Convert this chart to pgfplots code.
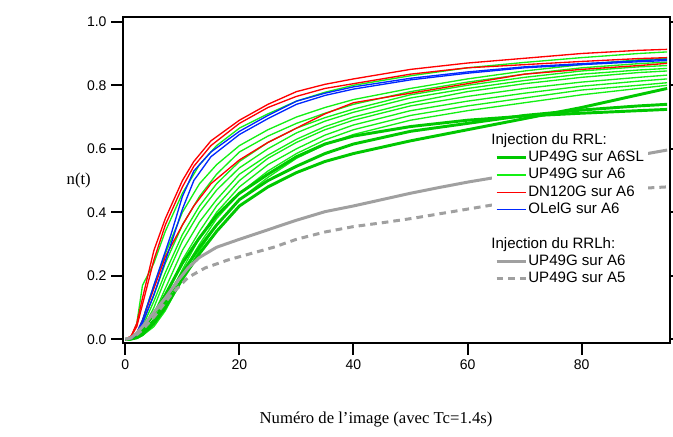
\documentclass[border=0pt]{standalone}
\usepackage{pgfplots}
\pgfplotsset{compat=1.18}
\usepackage{fontspec}
\setmainfont{Liberation Serif}
\newfontfamily\arial{Liberation Sans}
\definecolor{thickgreen}{RGB}{0,200,0}
\definecolor{thingreen}{RGB}{20,240,20}
\definecolor{myred}{RGB}{255,0,0}
\definecolor{myblue}{RGB}{0,40,255}
\definecolor{mygray}{RGB}{160,160,160}
\begin{document}
\begin{tikzpicture}
\begin{axis}[
  scale only axis, width=410.6pt, height=245pt,
  xmin=-0.5, xmax=95.5, ymin=-0.0126, ymax=1.016,
  xtick={0,20,40,60,80}, ytick={0,0.2,0.4,0.6,0.8,1.0},
  xtick pos=lower, ytick pos=both,
  tick align=outside,
  major tick length=8.5pt,
  axis line style={line width=1.5pt},
  tick style={black, line width=1.5pt},
  /pgf/number format/assume math mode=true,
  ticklabel style={font=\arial\fontsize{10.5}{12}\selectfont},
  yticklabel style={/pgf/number format/fixed, /pgf/number format/fixed zerofill, /pgf/number format/precision=1},
  xticklabel style={/pgf/number format/fixed},
  xlabel={Numéro de l'image (avec Tc=1.4s)},
  xlabel style={at={(axis description cs:0.463,-0.232)}, anchor=center, font=\fontsize{12.5}{14}\selectfont},
  ylabel={n(t)},
  ylabel style={at={(axis description cs:-0.08,0.497)}, rotate=-90, anchor=center, font=\fontsize{12.5}{14}\selectfont},
  legend style={at={(rel axis cs:0.675,0.657)}, anchor=north west, draw=none, fill=white,
    font=\arial\fontsize{11.3}{13}\selectfont, inner sep=2pt, row sep=0pt,
    nodes={inner sep=1pt, text height=8.5pt, text depth=2.5pt}},
  legend cell align=left,
  legend image code/.code={\draw[#1] (0pt,0pt) -- (21.75pt,0pt);},
]
% thin green (UP49G sur A6)
\addplot[thingreen, line width=1pt, forget plot] coordinates {(0,0)(1,0.005)(2,0.05)(3,0.17)(5,0.24)(7,0.34)(10,0.46)(13,0.55)(16,0.61)(20,0.665)(25,0.71)(30,0.75)(35,0.778)(40,0.80)(50,0.83)(60,0.855)(70,0.872)(80,0.887)(90,0.90)(95,0.905)};
\addplot[thingreen, line width=1pt, forget plot] coordinates {(0,0)(1,0.003)(2,0.02)(3,0.06)(5,0.17)(7,0.27)(10,0.40)(13,0.49)(16,0.55)(20,0.61)(25,0.66)(30,0.70)(35,0.73)(40,0.755)(50,0.79)(60,0.82)(70,0.845)(80,0.865)(90,0.88)(95,0.885)};
\addplot[thingreen, line width=1pt, forget plot] coordinates {(0,0)(1,0.003)(2,0.015)(3,0.05)(5,0.14)(7,0.24)(10,0.36)(13,0.45)(16,0.52)(20,0.59)(25,0.64)(30,0.68)(35,0.712)(40,0.74)(50,0.78)(60,0.81)(70,0.835)(80,0.855)(90,0.868)(95,0.873)};
\addplot[thingreen, line width=1pt, forget plot] coordinates {(0,0)(1,0.002)(2,0.01)(3,0.04)(5,0.12)(7,0.21)(10,0.33)(13,0.42)(16,0.49)(20,0.56)(25,0.62)(30,0.665)(35,0.698)(40,0.725)(50,0.77)(60,0.80)(70,0.825)(80,0.845)(90,0.858)(95,0.862)};
\addplot[thingreen, line width=1pt, forget plot] coordinates {(0,0)(1,0.002)(2,0.01)(3,0.03)(5,0.10)(7,0.19)(10,0.31)(13,0.40)(16,0.47)(20,0.54)(25,0.60)(30,0.65)(35,0.687)(40,0.715)(50,0.76)(60,0.79)(70,0.815)(80,0.835)(90,0.848)(95,0.853)};
\addplot[thingreen, line width=1pt, forget plot] coordinates {(0,0)(1,0.001)(2,0.008)(3,0.025)(5,0.08)(7,0.16)(10,0.28)(13,0.37)(16,0.44)(20,0.52)(25,0.58)(30,0.63)(35,0.67)(40,0.70)(50,0.745)(60,0.78)(70,0.805)(80,0.825)(90,0.84)(95,0.845)};
\addplot[thingreen, line width=1pt, forget plot] coordinates {(0,0)(1,0.001)(2,0.005)(3,0.02)(5,0.06)(7,0.13)(10,0.25)(13,0.34)(16,0.42)(20,0.50)(25,0.57)(30,0.62)(35,0.66)(40,0.69)(50,0.735)(60,0.765)(70,0.79)(80,0.81)(90,0.825)(95,0.832)};
\addplot[thingreen, line width=1pt, forget plot] coordinates {(0,0)(1,0.001)(2,0.005)(3,0.015)(5,0.05)(7,0.11)(10,0.22)(13,0.32)(16,0.40)(20,0.48)(25,0.55)(30,0.60)(35,0.643)(40,0.675)(50,0.72)(60,0.75)(70,0.775)(80,0.797)(90,0.813)(95,0.82)};
\addplot[thingreen, line width=1pt, forget plot] coordinates {(0,0)(1,0.001)(2,0.004)(3,0.015)(5,0.05)(7,0.11)(10,0.21)(13,0.30)(16,0.38)(20,0.46)(25,0.53)(30,0.585)(35,0.628)(40,0.66)(50,0.705)(60,0.735)(70,0.76)(80,0.785)(90,0.80)(95,0.808)};
\addplot[thingreen, line width=1pt, forget plot] coordinates {(0,0)(1,0.001)(2,0.003)(3,0.012)(5,0.04)(7,0.09)(10,0.19)(13,0.28)(16,0.36)(20,0.44)(25,0.51)(30,0.57)(35,0.613)(40,0.645)(50,0.69)(60,0.72)(70,0.745)(80,0.77)(90,0.79)(95,0.80)};
% thick green (UP49G sur A6SL)
\addplot[thickgreen, line width=2.2pt, forget plot] coordinates {(0,0)(1,0.002)(2,0.01)(3,0.03)(5,0.08)(7,0.14)(10,0.24)(13,0.32)(16,0.39)(20,0.46)(25,0.52)(30,0.575)(35,0.615)(40,0.64)(50,0.67)(60,0.69)(70,0.703)(80,0.712)(90,0.72)(95,0.724)};
\addplot[thickgreen, line width=2.2pt, forget plot] coordinates {(0,0)(1,0.001)(2,0.008)(3,0.02)(5,0.06)(7,0.12)(10,0.21)(13,0.29)(16,0.36)(20,0.44)(25,0.50)(30,0.545)(35,0.585)(40,0.615)(50,0.655)(60,0.68)(70,0.705)(80,0.722)(90,0.735)(95,0.74)};
\addplot[thickgreen, line width=2.2pt, forget plot] coordinates {(0,0)(1,0.001)(2,0.005)(3,0.015)(5,0.05)(7,0.10)(10,0.19)(13,0.27)(16,0.34)(20,0.42)(25,0.48)(30,0.525)(35,0.56)(40,0.585)(50,0.625)(60,0.66)(70,0.695)(80,0.73)(90,0.77)(95,0.79)};
% red (DN120G sur A6)
\addplot[myred, line width=1pt, forget plot] coordinates {(0,0)(1,0.01)(2,0.05)(3,0.13)(5,0.28)(7,0.38)(10,0.50)(12,0.56)(15,0.625)(20,0.69)(25,0.74)(30,0.78)(35,0.803)(40,0.82)(50,0.85)(60,0.87)(70,0.885)(80,0.90)(90,0.91)(95,0.913)};
\addplot[myred, line width=1pt, forget plot] coordinates {(0,0)(1,0.01)(2,0.04)(3,0.11)(5,0.25)(7,0.36)(10,0.48)(12,0.545)(15,0.61)(20,0.68)(25,0.73)(30,0.765)(35,0.79)(40,0.805)(50,0.835)(60,0.855)(70,0.865)(80,0.875)(90,0.884)(95,0.887)};
\addplot[myred, line width=1pt, forget plot] coordinates {(0,0)(1,0.005)(2,0.02)(3,0.06)(5,0.16)(7,0.26)(10,0.36)(12,0.42)(15,0.49)(20,0.565)(25,0.62)(30,0.665)(35,0.71)(40,0.745)(50,0.775)(60,0.805)(70,0.835)(80,0.85)(90,0.862)(95,0.869)};
% blue (OLelG sur A6)
\addplot[myblue, line width=1pt, forget plot] coordinates {(0,0)(1,0.003)(2,0.02)(3,0.06)(5,0.17)(8,0.33)(10,0.45)(12,0.53)(15,0.59)(20,0.655)(25,0.705)(30,0.75)(35,0.775)(40,0.795)(50,0.822)(60,0.842)(70,0.858)(80,0.868)(90,0.877)(95,0.882)};
\addplot[myblue, line width=1pt, forget plot] coordinates {(0,0)(1,0.002)(2,0.015)(3,0.05)(5,0.14)(8,0.30)(10,0.41)(12,0.50)(15,0.575)(20,0.645)(25,0.695)(30,0.74)(35,0.768)(40,0.788)(50,0.817)(60,0.838)(70,0.855)(80,0.865)(90,0.874)(95,0.878)};
% gray (RRLh)
\addplot[mygray, line width=2.25pt, forget plot] coordinates {(0,0)(1,0.005)(2,0.02)(3,0.04)(5,0.085)(7,0.13)(9,0.18)(11,0.225)(13,0.258)(16,0.29)(20,0.315)(25,0.345)(30,0.375)(35,0.402)(40,0.42)(45,0.44)(50,0.46)(55,0.478)(60,0.495)(65,0.51)(70,0.525)(80,0.555)(90,0.58)(95,0.596)};
\addplot[mygray, line width=2.25pt, dash pattern=on 5pt off 3.75pt, forget plot] coordinates {(0,0)(1,0.005)(2,0.015)(3,0.03)(5,0.07)(8,0.14)(11,0.195)(14,0.225)(18,0.25)(22,0.27)(26,0.29)(30,0.315)(35,0.338)(40,0.355)(45,0.367)(50,0.38)(55,0.395)(60,0.41)(65,0.425)(70,0.44)(80,0.46)(90,0.475)(95,0.48)};
% legend
\addlegendimage{empty legend}\addlegendentry{\hspace{-27.75pt}Injection du RRL:}
\addlegendimage{thickgreen, line width=2.2pt}\addlegendentry{UP49G sur A6SL}
\addlegendimage{thingreen, line width=1pt}\addlegendentry{UP49G sur A6}
\addlegendimage{myred, line width=1pt}\addlegendentry{DN120G sur A6}
\addlegendimage{myblue, line width=1.1pt}\addlegendentry{OLelG sur A6}
\addlegendimage{empty legend}\addlegendentry{}
\addlegendimage{empty legend}\addlegendentry{\hspace{-27.75pt}Injection du RRLh:}
\addlegendimage{mygray, line width=2.25pt}\addlegendentry{UP49G sur A6}
\addlegendimage{mygray, line width=2.25pt, dash pattern=on 5pt off 3.75pt}\addlegendentry{UP49G sur A5}
\coordinate (SW) at (rel axis cs:0,0);
\coordinate (NE) at (rel axis cs:1,1);
\end{axis}
\pgfresetboundingbox
\path ([shift={(-91.9pt,-69.5pt)}]SW) rectangle ([shift={(2.25pt,12.5pt)}]NE);
\end{tikzpicture}
\end{document}
